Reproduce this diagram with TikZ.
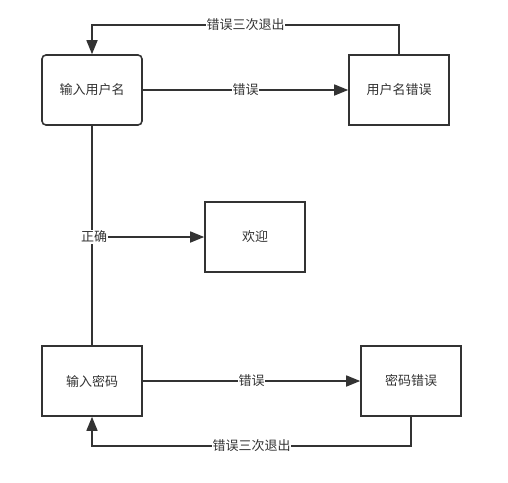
\documentclass[tikz,border=0pt]{standalone}
\usepackage{fontspec}
\newfontfamily\cjk{Noto Sans CJK SC}
\usetikzlibrary{arrows.meta}
\definecolor{ln}{HTML}{333333}
\begin{document}
\begin{tikzpicture}[x=1pt,y=-1pt,
  box/.style={draw=ln,line width=1.6pt,minimum width=100pt,minimum height=70pt,inner sep=0pt,font=\cjk\fontsize{13}{15}\selectfont,text=ln},
  conn/.style={draw=ln,line width=1.6pt},
  arr/.style={conn,-{Triangle[length=14pt,width=11pt]}},
  lbl/.style={fill=white,inner sep=0.5pt,font=\cjk\fontsize{13}{15}\selectfont,text=ln}]
\useasboundingbox (0,0) rectangle (508,482);
\node[box,rounded corners=4pt] (user) at (92,90) {输入用户名};
\node[box] (usererr) at (399,90) {用户名错误};
\node[box] (welcome) at (255,237) {欢迎};
\node[box] (pwd) at (92,381) {输入密码};
\node[box] (pwderr) at (411,381) {密码错误};
\coordinate (j) at (92,237);
\draw[arr] (user.east) -- node[lbl] {错误} (usererr.west);
\draw[arr] (usererr.north) -- (399,25) -- node[lbl] {错误三次退出} (92,25) -- (user.north);
\draw[conn] (user.south) -- (pwd.north);
\draw[arr] (j) -- (welcome.west);
\node[lbl] (ok) at (94,237) {正确};
\draw[arr] (pwd.east) -- node[lbl] {错误} (pwderr.west);
\draw[arr] (pwderr.south) -- (411,446) -- node[lbl] {错误三次退出} (92,446) -- (pwd.south);
\end{tikzpicture}
\end{document}
